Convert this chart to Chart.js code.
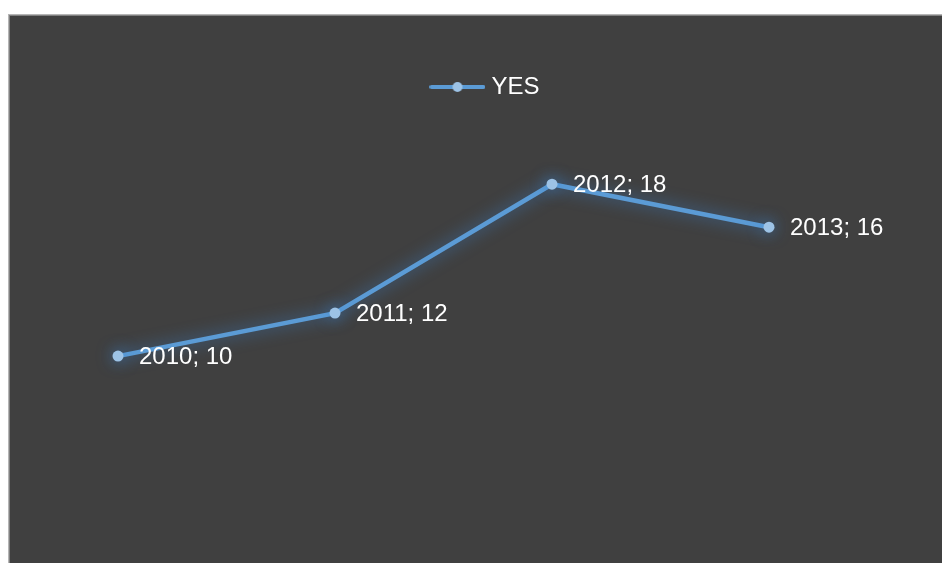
<!DOCTYPE html>
<html>
<head>
<meta charset="utf-8">
<script src="https://cdn.jsdelivr.net/npm/chart.js@4"></script>
<style>
  html, body { margin: 0; padding: 0; background: #ffffff; }
  #wrap { position: absolute; left: 0; top: 0; width: 942px; height: 563px; }
</style>
</head>
<body>
<div id="wrap"><canvas id="c" width="942" height="563"></canvas></div>
<script>
// Series data
const years = ['2010', '2011', '2012', '2013'];
const yesValues = [10, 12, 18, 16];
const seriesName = 'YES';

// Value axis range (axis itself is hidden)
const yMin = 4;
const yMax = 21.5;

const lineColor = '#5b9bd5';
const markerColor = '#9dc3e6';

Chart.defaults.font.family = '"Liberation Sans", Arial, Helvetica, sans-serif';

// Legend symbol: short line with a marker in the middle
const legendIcon = document.createElement('canvas');
legendIcon.width = 56;
legendIcon.height = 14;
(function () {
  const g = legendIcon.getContext('2d');
  g.strokeStyle = lineColor;
  g.lineWidth = 4;
  g.lineCap = 'round';
  g.beginPath();
  g.moveTo(2, 7);
  g.lineTo(54, 7);
  g.stroke();
  g.fillStyle = markerColor;
  g.beginPath();
  g.arc(28, 7, 5, 0, Math.PI * 2);
  g.fill();
})();

// Page background and dark plot panel with its edge
const panelPlugin = {
  id: 'panel',
  beforeDraw(chart) {
    const ctx = chart.ctx;
    ctx.save();
    ctx.fillStyle = '#ffffff';
    ctx.fillRect(0, 0, chart.width, chart.height);
    ctx.fillStyle = '#b5b5b5';
    ctx.fillRect(8, 14, chart.width - 8, chart.height - 14);
    ctx.fillStyle = '#808080';
    ctx.fillRect(9, 15, chart.width - 9, chart.height - 15);
    ctx.fillStyle = '#404040';
    ctx.fillRect(10, 16, chart.width - 10, chart.height - 16);
    ctx.restore();
  }
};

// Soft blue glow around the line and markers
const glowPlugin = {
  id: 'glow',
  beforeDatasetsDraw(chart) {
    const ctx = chart.ctx;
    ctx.save();
    ctx.shadowColor = 'rgba(60,135,215,0.75)';
    ctx.shadowBlur = 16;
    ctx.shadowOffsetX = 0;
    ctx.shadowOffsetY = 0;
  },
  afterDatasetsDraw(chart) {
    chart.ctx.restore();
  }
};

// "category; value" labels to the right of each point
const pointLabelPlugin = {
  id: 'pointLabels',
  afterDatasetsDraw(chart) {
    const ctx = chart.ctx;
    const meta = chart.getDatasetMeta(0);
    ctx.save();
    ctx.fillStyle = '#ffffff';
    ctx.font = '24px "Liberation Sans", Arial, sans-serif';
    ctx.textAlign = 'left';
    ctx.textBaseline = 'middle';
    meta.data.forEach((pt, i) => {
      ctx.fillText(years[i] + '; ' + yesValues[i], pt.x + 21, pt.y + 1);
    });
    ctx.restore();
  }
};

new Chart(document.getElementById('c'), {
  type: 'line',
  data: {
    labels: years,
    datasets: [{
      label: seriesName,
      data: yesValues,
      yAxisID: 'y',
      borderColor: lineColor,
      borderWidth: 4.5,
      backgroundColor: markerColor,
      pointBackgroundColor: markerColor,
      pointBorderColor: markerColor,
      pointBorderWidth: 0,
      pointRadius: 5.5,
      tension: 0,
      fill: false,
      clip: false
    }]
  },
  options: {
    responsive: false,
    devicePixelRatio: 1,
    animation: false,
    events: [],
    layout: { padding: { left: 118, right: 85, top: 63, bottom: 78 } },
    scales: {
      x: { type: 'category', display: false, offset: false },
      y: { type: 'linear', display: false, min: yMin, max: yMax },
      pad: {
        type: 'linear',
        position: 'right',
        display: true,
        ticks: { display: false },
        grid: { display: false, drawTicks: false },
        border: { display: false },
        title: { display: false },
        afterFit(scale) { scale.width = 88; }
      }
    },
    plugins: {
      tooltip: { enabled: false },
      legend: {
        display: true,
        position: 'top',
        align: 'center',
        labels: {
          color: '#ffffff',
          font: { size: 24 },
          usePointStyle: true,
          pointStyleWidth: 44,
          padding: 12,
          generateLabels() {
            return [{
              text: seriesName,
              fillStyle: markerColor,
              strokeStyle: lineColor,
              lineWidth: 0,
              pointStyle: legendIcon,
              fontColor: '#ffffff',
              hidden: false,
              datasetIndex: 0
            }];
          }
        }
      }
    }
  },
  plugins: [panelPlugin, glowPlugin, pointLabelPlugin]
});
</script>
</body>
</html>
